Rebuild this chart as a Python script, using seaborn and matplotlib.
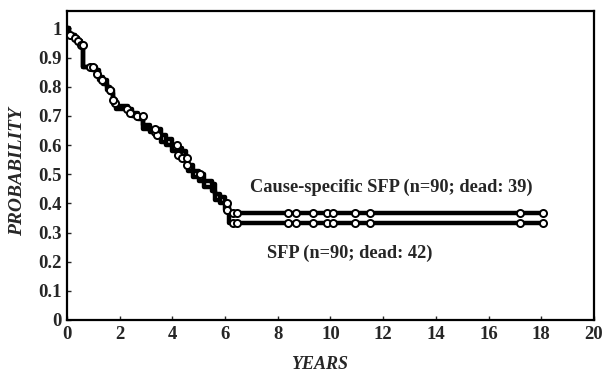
import numpy as np
import pandas as pd
import matplotlib
matplotlib.use("Agg")
import matplotlib.pyplot as plt
import seaborn as sns

# Step curve for overall SFP (time in years, probability after each step)
sfp_time = [0.0, 0.08, 0.3, 0.42, 0.53, 0.62, 0.95, 1.1, 1.2, 1.35, 1.5, 1.65,
            1.75, 1.85, 2.3, 2.45, 2.7, 2.9, 3.15, 3.4, 3.55, 3.75, 4.0, 4.2,
            4.35, 4.5, 4.6, 4.8, 5.0, 5.2, 5.5, 5.6, 5.8, 6.0, 6.15, 18.07]
sfp_prob = [1.0, 0.978, 0.967, 0.956, 0.944, 0.867, 0.856, 0.844, 0.822, 0.811,
            0.789, 0.778, 0.744, 0.722, 0.711, 0.70, 0.689, 0.656, 0.644, 0.633,
            0.611, 0.60, 0.578, 0.567, 0.556, 0.533, 0.511, 0.489, 0.478, 0.456,
            0.444, 0.411, 0.40, 0.378, 0.333, 0.333]

# Step curve for cause-specific SFP
cs_time = [0.0, 0.08, 0.3, 0.42, 0.53, 0.62, 0.95, 1.1, 1.2, 1.35, 1.5, 1.65,
           1.75, 1.85, 2.3, 2.45, 2.7, 2.9, 3.15, 3.4, 3.55, 3.75, 4.0, 4.2,
           4.35, 4.5, 4.6, 4.8, 5.0, 5.2, 5.5, 5.6, 5.8, 6.0, 6.15, 18.07]
cs_prob = [1.0, 0.978, 0.967, 0.956, 0.944, 0.867, 0.867, 0.856, 0.833, 0.822,
           0.80, 0.789, 0.756, 0.733, 0.722, 0.711, 0.70, 0.667, 0.656, 0.656,
           0.633, 0.622, 0.60, 0.589, 0.578, 0.556, 0.533, 0.511, 0.50, 0.478,
           0.466, 0.433, 0.422, 0.40, 0.366, 0.366]

# Censored observations (years)
sfp_cens = [0.11, 0.3, 0.42, 0.53, 0.6, 0.87, 1.13, 1.33, 1.63, 1.82, 2.28, 2.4,
            2.66, 3.34, 3.4, 4.2, 4.36, 4.55, 6.07, 6.3, 6.44, 8.4, 8.7, 9.35,
            9.85, 10.1, 10.95, 11.5, 17.2, 18.07]
cs_cens = [1.0, 1.75, 2.88, 3.34, 4.17, 4.55, 5.05, 6.07, 6.3, 6.44, 8.4, 8.7,
           9.35, 9.85, 10.1, 10.95, 11.5, 17.2, 18.07]

x_ticks = list(range(0, 21, 2))
y_ticks = [0, 0.1, 0.2, 0.3, 0.4, 0.5, 0.6, 0.7, 0.8, 0.9, 1.0]
y_labels = ["0", "0.1", "0.2", "0.3", "0.4", "0.5", "0.6", "0.7", "0.8", "0.9", "1"]

label_cs = "Cause-specific SFP (n=90; dead: 39)"
label_sfp = "SFP (n=90; dead: 42)"


def step_value(times, probs, t):
    idx = np.searchsorted(times, t, side="right") - 1
    return probs[max(idx, 0)]


sns.set_style("ticks")
plt.rcParams["font.family"] = ["Liberation Serif", "DejaVu Serif"]
plt.rcParams["font.weight"] = "bold"

fig = plt.figure(figsize=(6.06, 3.76), dpi=100)
ax = fig.add_axes([0.1106, 0.149, 0.8694, 0.822])

curves = pd.concat([
    pd.DataFrame({"t": sfp_time, "p": sfp_prob, "curve": "sfp"}),
    pd.DataFrame({"t": cs_time, "p": cs_prob, "curve": "cs"}),
])
sns.lineplot(data=curves, x="t", y="p", units="curve", estimator=None,
             drawstyle="steps-post", color="black", linewidth=3.2, ax=ax,
             legend=False, sort=False)

cens = pd.DataFrame({
    "t": sfp_cens + cs_cens,
    "p": [step_value(sfp_time, sfp_prob, t) for t in sfp_cens]
         + [step_value(cs_time, cs_prob, t) for t in cs_cens],
})
sns.scatterplot(data=cens, x="t", y="p", marker="o", s=26, facecolor="white",
                edgecolor="black", linewidth=1.4, ax=ax, zorder=3, legend=False)

ax.text(6.95, 0.455, label_cs, fontsize=13.2, fontweight="bold", va="center",
        ha="left")
ax.text(7.6, 0.23, label_sfp, fontsize=13.2, fontweight="bold", va="center",
        ha="left")

ax.set_xlim(0, 20)
ax.set_ylim(0, 1.06)
ax.set_xticks(x_ticks)
ax.set_xticklabels([str(v) for v in x_ticks])
ax.set_yticks(y_ticks)
ax.set_yticklabels(y_labels)
ax.tick_params(direction="in", length=3, width=1, labelsize=13.5, pad=4)
for lab in ax.get_xticklabels() + ax.get_yticklabels():
    lab.set_fontweight("bold")
for sp in ax.spines.values():
    sp.set_linewidth(1.6)
    sp.set_color("black")

ax.set_xlabel("YEARS", fontsize=13, fontweight="bold", fontstyle="italic")
ax.set_ylabel("PROBABILITY", fontsize=14, fontweight="bold",
              fontstyle="italic")
ax.xaxis.set_label_coords(0.48, -0.115)
ax.yaxis.set_label_coords(-0.078, 0.48)

fig.savefig("out.png", dpi=100)
